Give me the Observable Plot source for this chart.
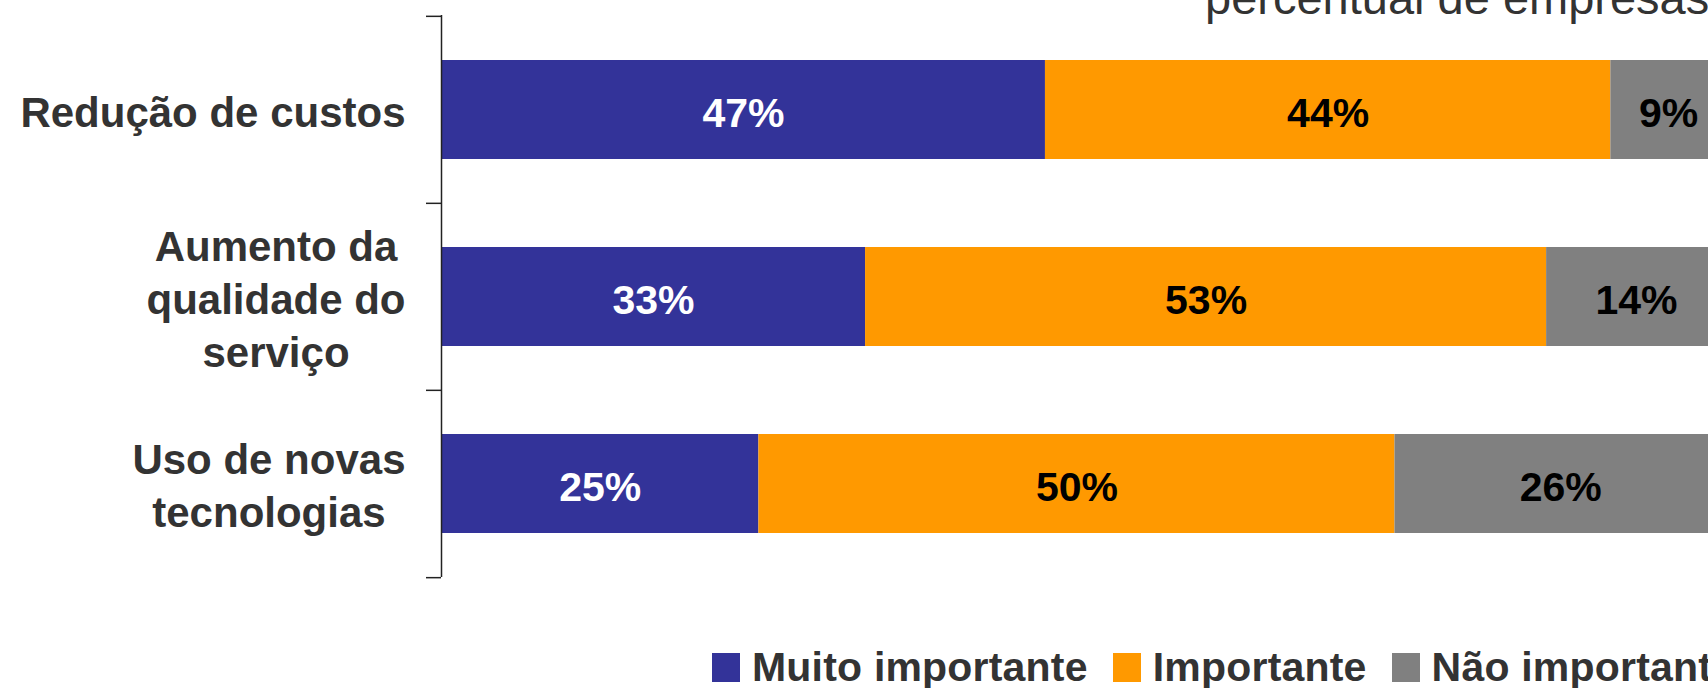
<!DOCTYPE html>
<html>
<head>
<meta charset="utf-8">
<script src="https://cdn.jsdelivr.net/npm/d3@7"></script>
<script src="https://cdn.jsdelivr.net/npm/@observablehq/plot@0.6"></script>
<style>
  html, body { margin: 0; padding: 0; background: #fff; }
  body { width: 1708px; height: 688px; overflow: hidden; position: relative; font-family: "Liberation Sans", Arial, sans-serif; }
  #chart { position: absolute; left: 0; top: 0; }
  #chart svg { max-width: none !important; overflow: visible; }
  #title { position: absolute; left: 1205px; top: -26px; font-size: 47px; line-height: 1; color: #333; white-space: nowrap; }
  #legend { position: absolute; left: 712px; top: 647px; display: flex; align-items: flex-start; white-space: nowrap; }
  .item { display: flex; align-items: flex-start; margin-right: 25px; }
  .sw { width: 28px; height: 29px; margin-top: 6px; margin-right: 12px; }
  .lab { font-size: 41px; font-weight: bold; line-height: 1; color: #333; letter-spacing: 0.2px; }
</style>
</head>
<body>
<div id="title"></div>
<div id="chart"></div>
<div id="legend"></div>
<script>
const title = "percentual de empresas";
const categories = ["Redução de custos", "Aumento da\nqualidade do\nserviço", "Uso de novas\ntecnologias"];
const levels = ["Muito importante", "Importante", "Não importante"];
const muitoImportante = [47, 33, 24.7];
const importante = [44, 53, 49.5];
const naoImportante = [9, 14, 25.8];
const colors = ["#333399", "#FF9900", "#808080"];

const series = [muitoImportante, importante, naoImportante];
const rows = [];
categories.forEach((c, i) => {
  let cum = 0;
  levels.forEach((l, j) => {
    const v = series[j][i];
    rows.push({category: c, level: l, value: v, x1: cum, x2: cum + v});
    cum += v;
  });
});

const W = 1726, H = 600, mT = 15, mB = 23, mL = 441;
const bw = (H - mT - mB) / categories.length;
const labelFont = "bold 42px 'Liberation Sans', Arial, sans-serif";
const ctx = document.createElement("canvas").getContext("2d");
ctx.font = labelFont;
const maxW = c => Math.max(...c.split("\n").map(s => ctx.measureText(s).width));

const labelMarks = categories.map(c => Plot.text([c], {
  y: d => d, frameAnchor: "left", text: d => d,
  textAnchor: "middle", lineAnchor: "middle", lineHeight: 1.26,
  fontSize: 42, fontWeight: "bold", fill: "#333",
  fontFamily: "'Liberation Sans', Arial, sans-serif",
  dx: -36 - maxW(c) / 2, dy: 0
}));

const pctText = d => Math.round(d.value) + "%";
const chart = Plot.plot({
  width: W, height: H,
  marginLeft: mL, marginRight: 0, marginTop: mT, marginBottom: mB,
  style: {maxWidth: "none", overflow: "visible", fontFamily: "'Liberation Sans', Arial, sans-serif", background: "transparent"},
  x: {domain: [0, 100], axis: null},
  y: {domain: categories, axis: null, padding: 0},
  color: {domain: levels, range: colors},
  marks: [
    Plot.barX(rows, {x1: "x1", x2: "x2", y: "category", fill: "level", insetTop: 44, insetBottom: 44}),
    Plot.text(rows, {filter: d => d.level === levels[0], x: d => (d.x1 + d.x2) / 2, y: "category", text: pctText,
      fill: "white", fontSize: 41, fontWeight: "bold", dy: 4}),
    Plot.text(rows, {filter: d => d.level !== levels[0], x: d => (d.x1 + d.x2) / 2, y: "category", text: pctText,
      fill: "black", fontSize: 41, fontWeight: "bold", dy: 4}),
    Plot.ruleX([0], {stroke: "#222", strokeWidth: 1.5}),
    Plot.ruleY(categories, {y: d => d, x1: 0, x2: 0, insetLeft: -15, dy: -bw / 2, stroke: "#222", strokeWidth: 1.5}),
    Plot.ruleY([categories[categories.length - 1]], {y: d => d, x1: 0, x2: 0, insetLeft: -15, dy: bw / 2, stroke: "#222", strokeWidth: 1.5}),
    ...labelMarks
  ]
});
document.getElementById("chart").appendChild(chart);
document.getElementById("title").textContent = title;

const legend = document.getElementById("legend");
levels.forEach((l, i) => {
  const item = document.createElement("div");
  item.className = "item";
  const sw = document.createElement("div");
  sw.className = "sw";
  sw.style.background = colors[i];
  const lab = document.createElement("div");
  lab.className = "lab";
  lab.textContent = l;
  item.appendChild(sw);
  item.appendChild(lab);
  legend.appendChild(item);
});
</script>
</body>
</html>
